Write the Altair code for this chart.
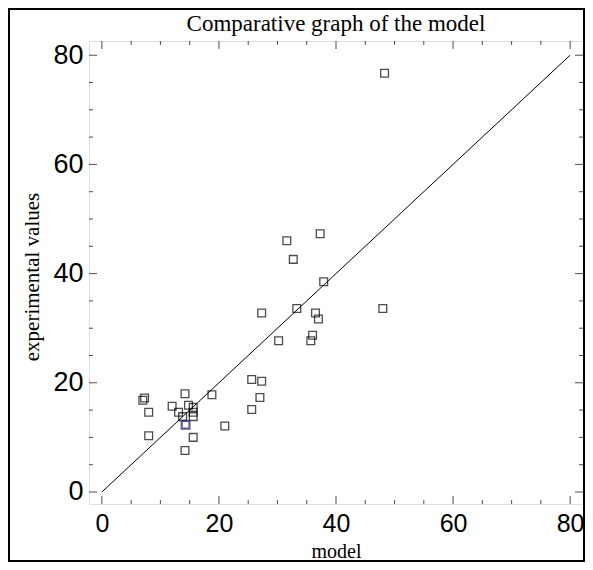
import altair as alt
import pandas as pd

# data
model = [48.3, 48.0, 31.6, 37.3, 32.7, 37.9, 27.3, 33.3, 36.5, 37.0, 30.2, 36.0,
         35.7, 25.6, 27.3, 27.0, 25.6, 7.3, 7.0, 8.0, 8.0, 14.2, 12.0, 13.1,
         14.8, 15.6, 15.6, 15.6, 13.8, 14.3, 15.6, 14.2, 18.8, 21.0]
experimental = [76.7, 33.6, 46.0, 47.3, 42.6, 38.5, 32.8, 33.6, 32.8, 31.7, 27.7, 28.7,
                27.7, 20.6, 20.3, 17.3, 15.1, 17.2, 16.8, 14.6, 10.3, 18.0, 15.7, 14.6,
                15.9, 15.5, 14.6, 13.8, 13.8, 12.3, 10.0, 7.6, 17.8, 12.1]
highlight = [0] * 29 + [1] + [0] * 4
line_x = [0, 80]
line_y = [0, 80]
major_ticks = [0, 20, 40, 60, 80]
minor_ticks = [5, 10, 15, 25, 30, 35, 45, 50, 55, 65, 70, 75]
title_text = "Comparative graph of the model"

W, H = 494, 463
xdom = [-2.2, 82.2]
ydom = [-2.2, 82.6]

pts = pd.DataFrame({"model": model, "exp": experimental, "hl": highlight})
line_df = pd.DataFrame({"model": line_x, "exp": line_y})
maj = pd.DataFrame({"model": major_ticks, "exp": major_ticks})
mnr = pd.DataFrame({"model": minor_ticks, "exp": minor_ticks})

xs = alt.Scale(domain=xdom, nice=False, zero=False)
ys = alt.Scale(domain=ydom, nice=False, zero=False)

lab_font = "Liberation Sans"
ser = "Liberation Serif"

xaxis = alt.Axis(values=major_ticks, grid=False, ticks=False, tickSize=0, domain=False,
                 labelFont=lab_font, labelFontSize=25, labelColor="black", labelPadding=7,
                 title="model", titleFont=ser, titleFontSize=20, titleFontWeight="normal",
                 titleColor="black", titleX=W / 2, titleY=53, titleBaseline="alphabetic",
                 titleAlign="center")
yaxis = alt.Axis(values=major_ticks, grid=False, ticks=False, tickSize=0, domain=False,
                 labelFont=lab_font, labelFontSize=27, labelColor="black", labelPadding=6,
                 title="experimental values", titleFont=ser, titleFontSize=21,
                 titleFontWeight="normal", titleColor="black", titleX=-57, titleY=H / 2 + 4,
                 titleBaseline="middle", titleAlign="center", titleAngle=270)

X = alt.X("model:Q", scale=xs, axis=xaxis)
Y = alt.Y("exp:Q", scale=ys, axis=yaxis)

points = alt.Chart(pts).mark_point(shape="square", filled=False, size=60, strokeWidth=1.3).encode(
    x=X, y=Y,
    color=alt.Color("hl:N", scale=alt.Scale(domain=[0, 1], range=["black", "#1a1a70"]), legend=None),
    strokeWidth=alt.StrokeWidth("hl:N", scale=alt.Scale(domain=[0, 1], range=[1.3, 2.2]), legend=None),
)

line = alt.Chart(line_df).mark_line(color="black", strokeWidth=1).encode(x=X, y=Y)

def xticks(df, size):
    return [alt.Chart(df).mark_tick(orient="vertical", size=size, thickness=1,
                                    color="black", clip=True).encode(x=X, y=alt.value(yv))
            for yv in [0, H]]

def yticks(df, size):
    return [alt.Chart(df).mark_tick(orient="horizontal", size=size, thickness=1,
                                    color="black", clip=True).encode(y=Y, x=alt.value(xv))
            for xv in [0, W]]

one = pd.DataFrame({"t": [title_text]})
border = alt.Chart(one).mark_rect(
    fillOpacity=0, stroke="black", strokeWidth=2, clip=False).encode(
    x=alt.value(-80), x2=alt.value(W + 1), y=alt.value(-32), y2=alt.value(H + 57))

title = alt.Chart(one).mark_text(font=ser, fontSize=23, color="black", baseline="alphabetic",
                                 align="center", clip=False).encode(
    text="t:N", x=alt.value(W / 2), y=alt.value(-10))

chart = alt.layer(
    points, line,
    *xticks(maj, 16), *xticks(mnr, 8), *yticks(maj, 16), *yticks(mnr, 8),
    border, title,
).properties(
    width=W, height=H,
    autosize=alt.AutoSizeParams(type="none"),
    padding={"left": 81, "top": 33, "right": 2, "bottom": 58},
).configure_view(stroke="black", strokeWidth=1.5).configure(background="white")

chart.save("out.html", embed_options={"renderer": "svg", "actions": False})
